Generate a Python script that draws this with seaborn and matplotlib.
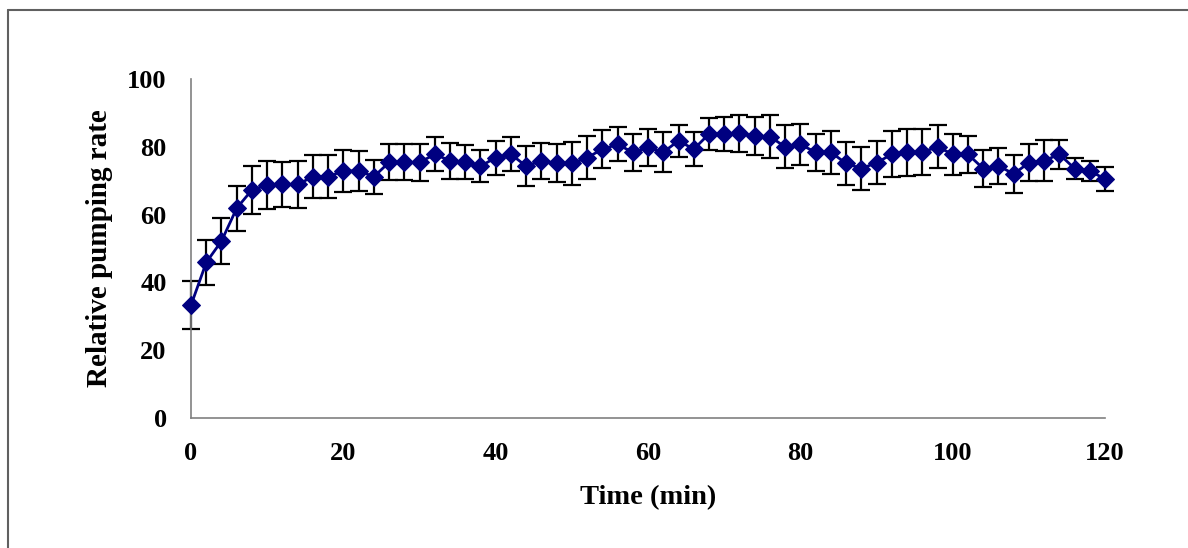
import numpy as np
import pandas as pd
import seaborn as sns
import matplotlib.pyplot as plt
from matplotlib.lines import Line2D

time_min = list(range(0, 121, 2))
rate = [33.3, 45.9, 52.2, 61.9, 67.3, 68.7, 68.9, 68.9, 71.2, 71.2,
        72.9, 72.9, 71.2, 75.4, 75.4, 75.4, 77.8, 75.9, 75.4, 74.3,
        76.8, 77.8, 74.3, 75.9, 75.1, 75.1, 76.8, 79.3, 80.7, 78.4,
        79.8, 78.4, 81.8, 79.3, 83.8, 83.8, 84.0, 83.2, 83.0, 80.0,
        80.7, 78.4, 78.4, 75.1, 73.6, 75.3, 77.8, 78.4, 78.4, 80.0,
        77.8, 77.8, 73.6, 74.4, 72.0, 75.3, 75.9, 77.8, 73.6, 72.9,
        70.5]
rate_err = [7.0, 6.6, 6.7, 6.6, 7.0, 7.0, 6.7, 7.0, 6.3, 6.3,
            6.2, 5.8, 5.0, 5.3, 5.3, 5.5, 5.0, 5.3, 5.0, 4.7,
            5.0, 5.0, 6.0, 5.3, 5.6, 6.3, 6.3, 5.6, 5.0, 5.5,
            5.4, 5.9, 4.7, 5.0, 4.8, 5.0, 5.5, 5.5, 6.3, 6.3,
            6.0, 5.5, 6.3, 6.3, 6.2, 6.3, 6.8, 7.0, 6.8, 6.3,
            6.0, 5.5, 5.6, 5.3, 5.5, 5.5, 6.0, 4.3, 3.2, 3.0,
            3.5]

df = pd.DataFrame({"Time": time_min, "Rate": rate, "Err": rate_err})

sns.set_style("white")
plt.rcParams["font.family"] = ["Liberation Serif", "DejaVu Serif"]
plt.rcParams["font.weight"] = "bold"
plt.rcParams["text.color"] = "black"
plt.rcParams["axes.labelcolor"] = "black"
plt.rcParams["xtick.labelcolor"] = "black"
plt.rcParams["ytick.labelcolor"] = "black"

fig = plt.figure(figsize=(11.88, 5.48), dpi=100)
ax = fig.add_axes([0.1608, 0.2372, 0.7694, 0.6186])

eb = ax.errorbar(df["Time"], df["Rate"], yerr=df["Err"], fmt="none", ecolor="black",
                 elinewidth=1.6, capsize=6.5, capthick=1.6, zorder=2)
for part in eb.get_children():
    part.set_clip_on(False)
sns.lineplot(data=df, x="Time", y="Rate", ax=ax, color="#000080", linewidth=2,
             marker="D", markersize=9.5, markeredgecolor="#000080", zorder=3,
             clip_on=False)

ax.set_xlim(0, 120)
ax.set_ylim(0, 100)
ax.set_xticks(range(0, 121, 20))
ax.set_yticks(range(0, 101, 20))
for s in ["top", "right"]:
    ax.spines[s].set_visible(False)
for s in ["left", "bottom"]:
    ax.spines[s].set_color("#808080")
    ax.spines[s].set_linewidth(1.2)
ax.tick_params(axis="both", direction="inout", length=11, width=1.2, color="#808080",
               labelsize=19, pad=12, labelcolor="black")
for lab in ax.get_xticklabels() + ax.get_yticklabels():
    lab.set_fontweight("bold")
ax.set_xlabel("Time (min)", fontsize=20.5, fontweight="bold", labelpad=14)
ax.set_ylabel("Relative pumping rate", fontsize=21, fontweight="bold", labelpad=10)

# outer frame (top and left visible)
fig.add_artist(Line2D([7.5 / 1188, 1.0], [1 - 9.5 / 548] * 2, transform=fig.transFigure,
                      color="#606060", linewidth=1.5))
fig.add_artist(Line2D([7.5 / 1188] * 2, [0.0, 1 - 9.5 / 548], transform=fig.transFigure,
                      color="#606060", linewidth=1.5))

fig.savefig("out.png", dpi=100)
